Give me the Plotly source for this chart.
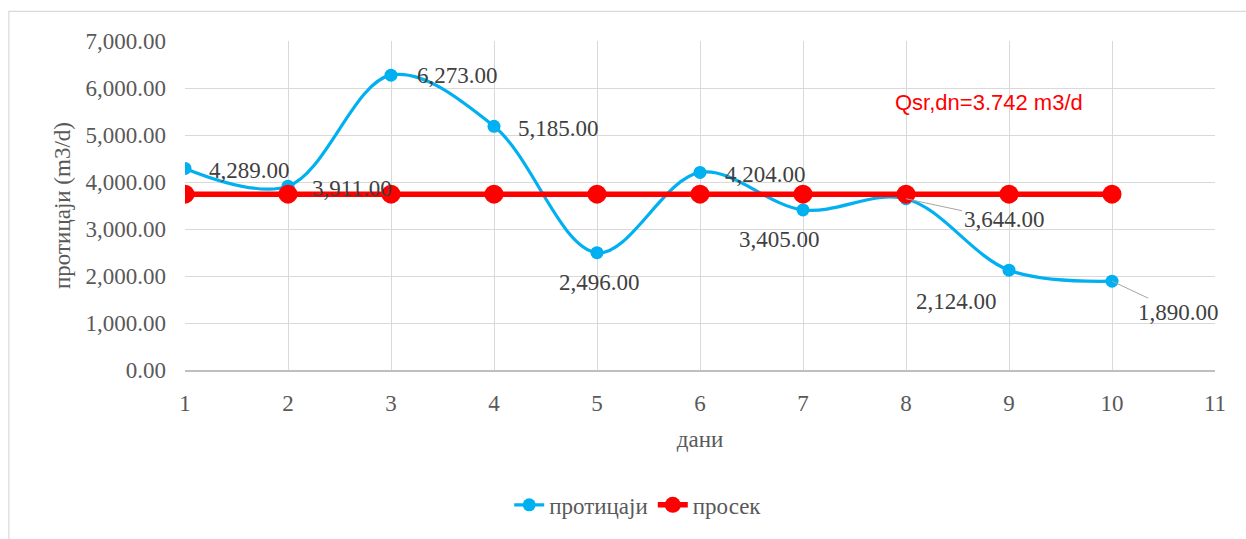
import plotly.graph_objects as go

days = [1, 2, 3, 4, 5, 6, 7, 8, 9, 10]
flows = [4289, 3911, 6273, 5185, 2496, 4204, 3405, 3644, 2124, 1890]
mean_flow = round(sum(flows) / len(flows), 0)
average = [mean_flow] * len(days)

# label offsets in pixels (dx, dy) and whether a leader line is drawn
label_offsets = [(64, -2), (64, -2), (66, 0), (64, -2), (2, -30), (65, -2), (-24, -30), (98, -21), (-53, -31), (66, -31)]
leaders = [False, False, False, False, False, False, False, True, False, True]

serif = "Liberation Serif, Times New Roman, serif"
grey = "#595959"

fig = go.Figure()
fig.add_trace(go.Scatter(
    x=days, y=flows, name="протицаји", mode="lines+markers",
    line=dict(color="#00b0f0", width=3.2, shape="spline", smoothing=1.0),
    marker=dict(size=13, color="#00b0f0"),
))
fig.add_trace(go.Scatter(
    x=days, y=average, name="просек", mode="lines+markers",
    line=dict(color="#ff0000", width=5.5),
    marker=dict(size=19, color="#ff0000"),
))

for d, v, (dx, dy), lead in zip(days, flows, label_offsets, leaders):
    text = f"{v:,.2f}"
    if lead:
        fig.add_annotation(
            x=d, y=v, xref="x", yref="y", text=text, showarrow=True,
            ax=dx, ay=-dy, arrowhead=0, arrowwidth=1, arrowcolor="#a6a6a6",
            xanchor="center", yanchor="middle",
            font=dict(family=serif, size=23, color="#404040"),
        )
    else:
        fig.add_annotation(
            x=d, y=v, xref="x", yref="y", text=text, showarrow=False,
            xshift=dx, yshift=dy, font=dict(family=serif, size=23, color="#404040"),
        )

fig.add_annotation(
    x=8.81, y=5700, xref="x", yref="y", text="Qsr,dn=3.742 m3/d", showarrow=False,
    font=dict(family="Liberation Sans", size=22, color="#ff0000"),
)

# outer chart frame (runs past the right edge of the page)
fig.add_shape(type="rect", xref="paper", yref="paper",
              x0=-0.171, x1=1.06, y0=-0.55, y1=1.09,
              line=dict(color="#d9d9d9", width=1.2), layer="below")

fig.update_layout(
    width=1246, height=539,
    margin=dict(l=185, r=31, t=41, b=164),
    paper_bgcolor="white", plot_bgcolor="white",
    font=dict(family=serif, color=grey, size=23),
    showlegend=True,
    legend=dict(orientation="h", x=0.44, xanchor="center", y=-0.41, yanchor="middle",
                font=dict(family=serif, size=23, color=grey)),
    xaxis=dict(range=[1, 11], dtick=1, tick0=1, showgrid=True, gridcolor="#d9d9d9",
               gridwidth=1.3, showline=True, linecolor="#bfbfbf", linewidth=1.5,
               zeroline=False, ticks="", ticklabelstandoff=12,
               title=dict(text="дани", font=dict(family=serif, size=23, color=grey), standoff=16),
               tickfont=dict(family=serif, size=23, color=grey)),
    yaxis=dict(range=[0, 7000], dtick=1000, showgrid=True, gridcolor="#d9d9d9",
               gridwidth=1.3, zeroline=False, tickformat=",.2f", ticks="",
               ticklabelstandoff=18,
               title=dict(text="протицаји (m3/d)", font=dict(family=serif, size=23, color=grey), standoff=8),
               tickfont=dict(family=serif, size=23, color=grey)),
)

fig.write_html("out.html")
